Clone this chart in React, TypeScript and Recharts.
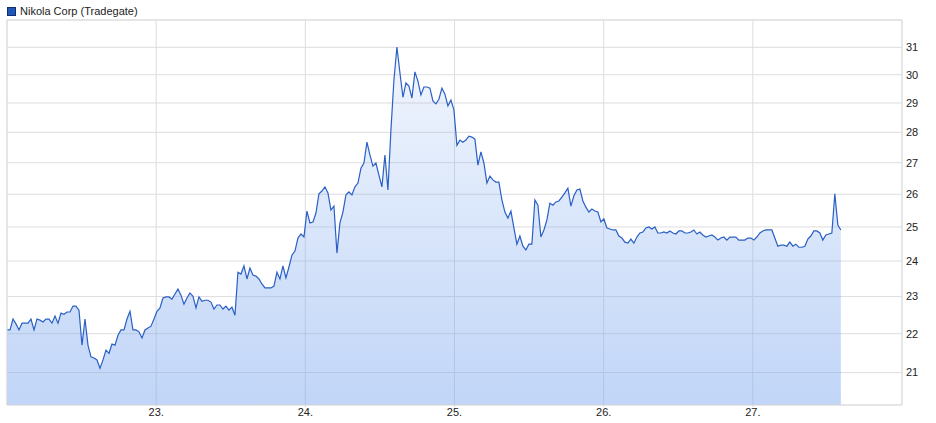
import { AreaChart, Area, XAxis, YAxis, CartesianGrid, ReferenceLine } from "recharts";

const seriesName = "Nikola Corp (Tradegate)";
const dayTicks = [23, 24, 25, 26, 27];
const priceTicks = [21, 22, 23, 24, 25, 26, 27, 28, 29, 30, 31];
const firstDay = 22.0;
const lastDay = 27.59;

// prices, evenly spaced in time from firstDay to lastDay
const prices = [
  22.1, 22.1, 22.39, 22.26, 22.1, 22.28, 22.28, 22.28, 22.39, 22.1,
  22.39, 22.36, 22.31, 22.39, 22.39, 22.28, 22.47, 22.28, 22.55, 22.52,
  22.58, 22.58, 22.74, 22.74, 22.63, 21.7, 22.39, 21.7, 21.4, 21.37,
  21.32, 21.11, 21.32, 21.57, 21.49, 21.73, 21.7, 21.96, 22.1, 22.1,
  22.39, 22.6, 22.1, 22.1, 22.05, 21.89, 22.1, 22.15, 22.2, 22.39,
  22.6, 22.69, 22.96, 22.99, 22.99, 22.93, 23.07, 23.21, 23.04, 22.79,
  22.96, 23.1, 23.01, 22.69, 22.99, 22.87, 22.9, 22.9, 22.85, 22.66,
  22.77, 22.77, 22.66, 22.74, 22.63, 22.71, 22.49, 23.68, 23.63, 23.86,
  23.49, 23.8, 23.6, 23.57, 23.49, 23.35, 23.24, 23.24, 23.24, 23.29,
  23.68, 23.49, 23.86, 23.52, 23.83, 24.17, 24.29, 24.67, 24.79, 24.7,
  25.48, 25.12, 25.15, 25.42, 26.01, 26.1, 26.23, 26.04, 25.51, 25.63,
  24.23, 25.12, 25.45, 25.98, 26.07, 25.98, 26.23, 26.35, 26.82, 26.99,
  27.67, 27.25, 26.89, 26.99, 26.6, 26.23, 27.25, 26.13, 28.08, 29.81,
  31.01, 30.07, 29.2, 29.7, 29.59, 29.17, 30.1, 29.77, 29.28, 29.56,
  29.56, 29.52, 29.07, 28.97, 29.13, 29.52, 29.31, 28.9, 29.1, 28.76,
  27.57, 27.74, 27.67, 27.74, 27.87, 27.84, 27.77, 26.92, 27.35, 26.99,
  26.35, 26.57, 26.45, 26.38, 26.38, 25.82, 25.45, 25.27, 25.48, 24.97,
  24.49, 24.73, 24.43, 24.32, 24.49, 24.49, 25.82, 25.66, 24.7, 24.91,
  25.21, 25.72, 25.66, 25.76, 25.79, 25.91, 26.04, 26.19, 25.63, 25.95,
  26.13, 26.16, 25.79, 25.6, 25.45, 25.54, 25.48, 25.45, 25.15, 25.24,
  24.97, 24.94, 24.91, 24.91, 24.73, 24.67, 24.55, 24.52, 24.64, 24.52,
  24.7, 24.82, 24.85, 24.97, 25.0, 24.94, 25.0, 24.82, 24.82, 24.85,
  24.82, 24.88, 24.82, 24.79, 24.88, 24.88, 24.82, 24.82, 24.85, 24.91,
  24.79, 24.85, 24.76, 24.7, 24.73, 24.76, 24.7, 24.61, 24.67, 24.7,
  24.61, 24.7, 24.7, 24.7, 24.61, 24.61, 24.61, 24.67, 24.67, 24.61,
  24.7, 24.82, 24.88, 24.91, 24.91, 24.91, 24.67, 24.43, 24.46, 24.46,
  24.43, 24.55, 24.43, 24.49, 24.4, 24.4, 24.43, 24.64, 24.73, 24.88,
  24.88, 24.82, 24.61, 24.76, 24.79, 24.82, 26.01, 25.06, 24.91,
];

const yMin = 20.2;
const yMax = 32.03;

const data = prices.map((price, i) => ({
  t: firstDay + (i * (lastDay - firstDay)) / (prices.length - 1),
  price,
}));

const font = "'Liberation Sans', Arial, sans-serif";
const gridColor = "#dddddd";

export default function App() {
  return (
    <div style={{ position: "relative", width: 936, height: 423, fontFamily: font }}>
      <style>{`body{margin:0}`}</style>
      <div
        style={{
          position: "absolute",
          left: 7,
          top: 5,
          display: "flex",
          alignItems: "center",
          fontSize: 11,
          color: "#222",
          zIndex: 1,
        }}
      >
        <span
          style={{
            display: "inline-block",
            width: 7,
            height: 7,
            background: "#1f56b8",
            border: "1px solid #0e2f70",
            marginRight: 4,
          }}
        />
        {seriesName}
      </div>
      <AreaChart
        width={936}
        height={423}
        data={data}
        margin={{ top: 20, right: 0, bottom: 0, left: 7 }}
      >
        <defs>
          <linearGradient id="fillGrad" x1="0" y1="0" x2="0" y2="1">
            <stop offset="0%" stopColor="#7aa6ef" stopOpacity={0.1} />
            <stop offset="100%" stopColor="#7aa6ef" stopOpacity={0.47} />
          </linearGradient>
        </defs>
        <CartesianGrid stroke={gridColor} />
        <XAxis
          dataKey="t"
          type="number"
          domain={[22, 28]}
          ticks={dayTicks}
          tickFormatter={(v) => `${v}.`}
          allowDataOverflow
          height={18}
          tickSize={2}
          tickMargin={1}
          tickLine={{ stroke: gridColor }}
          axisLine={{ stroke: gridColor }}
          tick={{ fontSize: 11, fill: "#222", fontFamily: font }}
        />
        <YAxis
          orientation="right"
          scale="log"
          domain={[yMin, yMax]}
          ticks={priceTicks}
          allowDataOverflow
          width={34}
          tickSize={0}
          tickMargin={4}
          axisLine={{ stroke: gridColor }}
          tick={{ fontSize: 11, fill: "#222", fontFamily: font, textAnchor: "start" }}
        />
        <ReferenceLine x={22} stroke={gridColor} />
        <ReferenceLine y={yMax} stroke={gridColor} />
        <Area
          type="linear"
          dataKey="price"
          stroke="#2a5fc6"
          strokeWidth={1.2}
          fill="url(#fillGrad)"
          fillOpacity={1}
          baseValue={yMin}
          dot={false}
          activeDot={false}
          isAnimationActive={false}
        />
      </AreaChart>
    </div>
  );
}
